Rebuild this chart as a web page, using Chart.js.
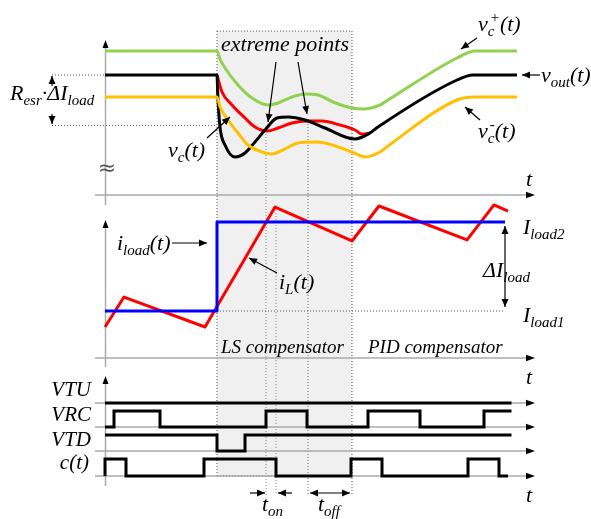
<!DOCTYPE html>
<html>
<head>
<meta charset="utf-8">
<script src="https://cdn.jsdelivr.net/npm/chart.js@4.4.1/dist/chart.umd.min.js"></script>
<style>
  html, body { margin: 0; padding: 0; background: #fff; }
  #wrap { position: relative; width: 591px; height: 519px; }
</style>
</head>
<body>
<div id="wrap"><canvas id="chart" width="591" height="519"></canvas></div>
<script>
// time in µs, t = 0 is the load step; LS compensator runs until tLS
const tStart = -22.4, tLS = 27, tEnd = 63.2;

// top panel, volts [t, v]
const vcPlus = [[-22.4,1.248],[0,1.248],[0.6,1.232],[1.6,1.214],[4.2,1.18],[7,1.154],[10.2,1.14],[12.2,1.144],[15,1.156],[17.6,1.162],[20.2,1.16],[23.2,1.146],[27,1.134],[29.2,1.132],[32.6,1.14],[34.2,1.15],[48,1.234],[51.6,1.248],[60,1.248]];
const vcMinus = [[-22.4,1.156],[0,1.156],[0.6,1.136],[2.2,1.11],[4.2,1.084],[6.2,1.06],[9,1.046],[11,1.042],[13.2,1.05],[16.2,1.064],[19.6,1.066],[21.6,1.064],[27,1.046],[29.6,1.036],[32.6,1.046],[34.2,1.058],[48,1.15],[51.6,1.156],[60,1.156]];
const vout = [[-22.4,1.2],[0,1.2],[0.15,1.16],[0.6,1.096],[1.6,1.06],[3.6,1.036],[5.6,1.044],[7.6,1.066],[9.6,1.09],[12,1.114],[14.2,1.116],[17.6,1.11],[21.6,1.094],[27.6,1.072],[30.6,1.084],[32.2,1.096],[48,1.19],[51.2,1.2],[60,1.2]];
const vc = [[0,1.2],[1,1.166],[3,1.14],[5.6,1.114],[7.6,1.096],[10,1.088],[12.2,1.094],[15,1.104],[18.2,1.108],[21,1.108],[24.6,1.1],[27.6,1.09],[29,1.082],[30.6,1.084]];

// middle panel, amps
const iLoad1 = 2, iLoad2 = 8;
const iLoad = [[-22.4,iLoad1],[0,iLoad1],[0,iLoad2],[57.6,iLoad2]];
const iL = [[-22.4,0.92],[-18.6,2.94],[-2.4,0.92],[11.6,9.01],[27,6.72],[32.4,9.08],[50,6.79],[55.4,9.15],[58.2,8.74]];

// bottom panel, logic levels [t, level], level holds from t on
const vtu = [[-22.4,1],[58.9,1]];
const vrc = [[-22.4,0],[-20.6,1],[-11.4,0],[9.8,1],[18,0],[30.2,1],[40.6,0],[53.4,1],[58.9,1]];
const vtd = [[-22.4,1],[0,0],[5.6,1],[58.9,1]];
const cT = [[-22.4,0],[-22.4,1],[-18.2,0],[-2.6,1],[11.8,0],[26.8,1],[33,0],[50.2,1],[56.4,0],[58.2,0]];

// marker times
const tOn = [9.8, 11.8], tOff = [18.2, 27];

const W = 591, H = 519, X0 = 217, PX_PER_US = 5;
const SERIF = '"Liberation Serif", serif';

// y scale from two anchor points (value -> pixel)
function yScale(v1, p1, v2, p2) {
    const k = (p1 - p2) / (v2 - v1);
    return { type: 'linear', display: false, min: v1 - (H - p1) / k, max: v1 + p1 / k };
}
const pts = a => a.map(p => ({ x: p[0], y: p[1] }));
function ds(data, color, axis, extra) {
    return Object.assign({ data: pts(data), borderColor: color, borderWidth: 3, pointRadius: 0, yAxisID: axis, fill: false, tension: 0, borderJoinStyle: 'round' }, extra);
}

function rich(ctx, parts, x, y, size, align) {
    let segs = parts.map(p => {
        let kind = 'n', s = p;
        if (p[0] === '_') { kind = 'sub'; s = p.slice(1); } else if (p[0] === '^') { kind = 'sup'; s = p.slice(1); }
        let fs = kind === 'n' ? size : Math.round(size * 0.7);
        ctx.font = `italic ${fs}px ${SERIF}`;
        return { s, kind, fs, w: ctx.measureText(s).width };
    });
    let total = 0, prev = null;
    segs.forEach(g => { if (g.kind === 'sup' && prev && prev.kind === 'sub') { g.stack = true; total += Math.max(0, g.w - prev.w); } else total += g.w; prev = g; });
    let cx = align === 'right' ? x - total : align === 'center' ? x - total / 2 : x;
    ctx.fillStyle = '#000'; ctx.textAlign = 'left'; ctx.textBaseline = 'alphabetic';
    let subStart = 0;
    segs.forEach(g => {
        ctx.font = `italic ${g.fs}px ${SERIF}`;
        if (g.kind === 'n') { ctx.fillText(g.s, cx, y); cx += g.w; }
        else if (g.kind === 'sub') { subStart = cx; ctx.fillText(g.s, cx, y + size * 0.22); cx += g.w; }
        else {
            let sx = g.stack ? subStart + 2 : cx;
            ctx.fillText(g.s, sx, y - size * 0.42);
            cx = g.stack ? Math.max(cx, sx + g.w) : cx + g.w;
        }
    });
}

function head(ctx, x1, y1, x2, y2, len, wid) {
    let a = Math.atan2(y2 - y1, x2 - x1);
    ctx.beginPath();
    ctx.moveTo(x2, y2);
    ctx.lineTo(x2 - len * Math.cos(a) + wid * Math.sin(a), y2 - len * Math.sin(a) - wid * Math.cos(a));
    ctx.lineTo(x2 - len * Math.cos(a) - wid * Math.sin(a), y2 - len * Math.sin(a) + wid * Math.cos(a));
    ctx.closePath(); ctx.fill();
}
function arrow(ctx, x1, y1, x2, y2, both) {
    ctx.save(); ctx.strokeStyle = '#000'; ctx.fillStyle = '#000'; ctx.lineWidth = 1.2; ctx.setLineDash([]);
    ctx.beginPath(); ctx.moveTo(x1, y1); ctx.lineTo(x2, y2); ctx.stroke();
    head(ctx, x1, y1, x2, y2, 8, 3.5);
    if (both) head(ctx, x2, y2, x1, y1, 8, 3.5);
    ctx.restore();
}
function dotted(ctx, x1, y1, x2, y2, col) {
    ctx.save(); ctx.strokeStyle = col || '#555'; ctx.lineWidth = 1; ctx.setLineDash([1, 2]);
    ctx.beginPath(); ctx.moveTo(x1, y1); ctx.lineTo(x2, y2); ctx.stroke(); ctx.restore();
}

const backdrop = {
    id: 'backdrop',
    beforeDatasetsDraw(chart) {
        const ctx = chart.ctx, xs = chart.scales.x;
        const xa = Math.round(xs.getPixelForValue(tStart)), x0 = xs.getPixelForValue(0), x1 = xs.getPixelForValue(tLS), xe = xs.getPixelForValue(tEnd);
        ctx.save();
        // LS compensator region
        ctx.fillStyle = '#f0f0f0';
        ctx.fillRect(x0, 31, x1 - x0, 476 - 31);
        dotted(ctx, x0, 31, x1, 31); dotted(ctx, x0, 31, x0, 476); dotted(ctx, x1, 31, x1, 495);
        dotted(ctx, x0, 476, x1, 476);
        // guides
        let xon0 = xs.getPixelForValue(tOn[0]), xon1 = xs.getPixelForValue(tOn[1]), xoff0 = xs.getPixelForValue(tOff[0]);
        dotted(ctx, xon0, 131, xon0, 495, '#888');
        dotted(ctx, xon1, 207, xon1, 495, '#888');
        dotted(ctx, xoff0, 121, xoff0, 495, '#666');
        dotted(ctx, 52, 75, xa, 75); dotted(ctx, 52, 125.5, x0, 125.5);
        dotted(ctx, x0, 311, xs.getPixelForValue(57.6), 311);
        // axes
        ctx.strokeStyle = '#aaa'; ctx.lineWidth = 1.5; ctx.fillStyle = '#000';
        const vAxes = [[205, 40], [367, 220], [486, 376]];
        vAxes.forEach(a => {
            ctx.beginPath(); ctx.moveTo(xa + 0.5, a[0]); ctx.lineTo(xa + 0.5, a[1] + 4); ctx.stroke();
            head(ctx, xa + 0.5, a[1] + 10, xa + 0.5, a[1], 8, 3);
        });
        [195, 358, 403, 427, 451, 476].forEach(y => {
            ctx.beginPath(); ctx.moveTo(95, y); ctx.lineTo(xe - 4, y); ctx.stroke();
            head(ctx, xe - 10, y, xe + 2, y, 9, 3.2);
        });
        ctx.restore();
    },
    afterDatasetsDraw(chart) {
        const ctx = chart.ctx;
        ctx.save();
        // top panel labels
        rich(ctx, ['R', '_esr', '·ΔI', '_load'], 10, 100, 22);
        arrow(ctx, 52, 86, 52, 76); arrow(ctx, 52, 114, 52, 124);
        ctx.font = `22px "DejaVu Sans", sans-serif`; ctx.fillStyle = '#555'; ctx.textAlign = 'center'; ctx.fillText('≈', 107, 175);
        rich(ctx, ['extreme points'], 285, 51, 22, 'center');
        arrow(ctx, 276, 62, 268, 122); arrow(ctx, 298, 62, 307, 114);
        rich(ctx, ['v', '_c', '(t)'], 168, 157, 22);
        arrow(ctx, 207, 138, 230, 117);
        rich(ctx, ['v', '_c', '^+', '(t)'], 478, 31, 22);
        arrow(ctx, 477, 38, 461, 49);
        rich(ctx, ['v', '_out', '(t)'], 541, 82, 22);
        arrow(ctx, 540, 75, 522, 75);
        rich(ctx, ['v', '_c', '^-', '(t)'], 478, 138, 22);
        arrow(ctx, 480, 120, 465, 107);
        rich(ctx, ['t'], 526, 186, 22);
        // middle panel labels
        rich(ctx, ['i', '_load', '(t)'], 117, 250, 22);
        arrow(ctx, 172, 243, 207, 243);
        rich(ctx, ['i', '_L', '(t)'], 279, 289, 22);
        arrow(ctx, 277, 273, 249, 258);
        arrow(ctx, 505, 226, 505, 307, true);
        rich(ctx, ['I', '_load2'], 523, 234, 22);
        rich(ctx, ['ΔI', '_load'], 483, 277, 22);
        rich(ctx, ['I', '_load1'], 523, 322, 22);
        rich(ctx, ['LS compensator'], 221, 353, 19);
        rich(ctx, ['PID compensator'], 368, 353, 19);
        rich(ctx, ['t'], 526, 384, 22);
        // bottom panel labels
        rich(ctx, ['VTU'], 91, 396, 21, 'right');
        rich(ctx, ['VRC'], 91, 421, 21, 'right');
        rich(ctx, ['VTD'], 91, 446, 21, 'right');
        rich(ctx, ['c(t)'], 89, 469, 21, 'right');
        arrow(ctx, 250, 493, 265, 493); arrow(ctx, 292, 493, 278, 493);
        arrow(ctx, 310, 493, 350, 493, true);
        rich(ctx, ['t', '_on'], 262, 511, 22);
        rich(ctx, ['t', '_off'], 318, 511, 22);
        rich(ctx, ['t'], 526, 502, 22);
        ctx.restore();
    }
};

const mono = { cubicInterpolationMode: 'monotone' };
const step = { stepped: 'before', borderJoinStyle: 'miter', borderCapStyle: 'butt' };

function draw() {
    new Chart(document.getElementById('chart'), {
        type: 'line',
        data: {
            datasets: [
                ds(vcPlus, '#92d050', 'yV', mono),
                ds(vcMinus, '#ffc000', 'yV', mono),
                ds(vout, '#000000', 'yV', mono),
                ds(vc, '#ff0000', 'yV', mono),
                ds(iLoad, '#0000ff', 'yI'),
                ds(iL, '#ff0000', 'yI'),
                ds(vtu, '#000000', 'yVTU', step),
                ds(vrc, '#000000', 'yVRC', step),
                ds(vtd, '#000000', 'yVTD', step),
                ds(cT, '#000000', 'yC', step)
            ]
        },
        options: {
            responsive: false, animation: false, devicePixelRatio: 1,
            layout: { padding: 0 },
            plugins: { legend: { display: false }, tooltip: { enabled: false }, title: { display: false } },
            scales: {
                x: { type: 'linear', display: false, min: -X0 / PX_PER_US, max: (W - X0) / PX_PER_US },
                yV: yScale(1.2, 75, 1.1, 125),
                yI: yScale(iLoad1, 311, iLoad2, 222),
                yVTU: yScale(0, 419, 1, 403),
                yVRC: yScale(0, 427, 1, 411),
                yVTD: yScale(0, 451, 1, 435),
                yC: yScale(0, 476, 1, 459)
            }
        },
        plugins: [backdrop]
    });
}

document.fonts.load('italic 22px "Liberation Serif"').catch(() => {}).then(draw);
</script>
</body>
</html>
